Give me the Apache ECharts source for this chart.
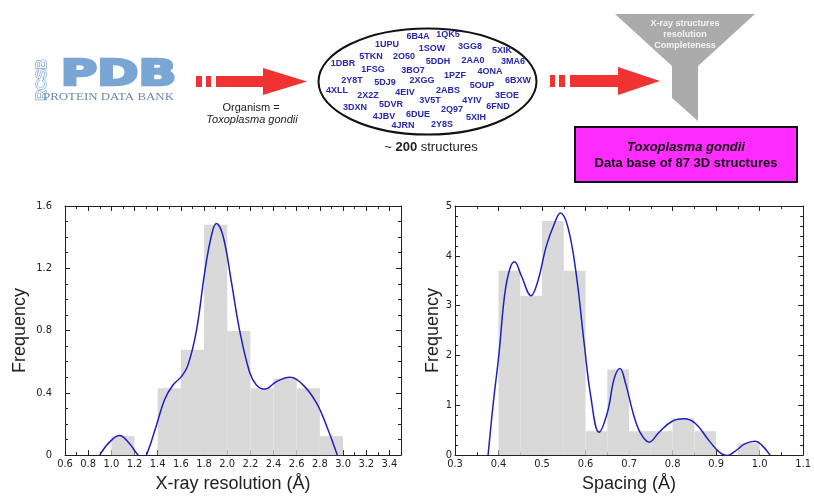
<!DOCTYPE html>
<html>
<head>
<meta charset="utf-8">
<script src="https://cdn.jsdelivr.net/npm/echarts@6/dist/echarts.min.js"></script>
<style>html,body{margin:0;padding:0;background:#fff;}#c{width:814px;height:498px;}</style>
</head>
<body>
<div id="c"></div>
<script>
// ---- Data: X-ray resolution histogram (bins of 0.2 Å) ----
const resBinStart = [1.0, 1.4, 1.6, 1.8, 2.0, 2.2, 2.4, 2.6, 2.8];
const resBinEnd   = [1.2, 1.6, 1.8, 2.0, 2.2, 2.4, 2.6, 2.8, 3.0];
const resFreq     = [0.122, 0.43, 0.677, 1.48, 0.797, 0.43, 0.49, 0.43, 0.122];
// density curve
const resCurveX = [0.90, 0.98, 1.071, 1.15, 1.23, 1.265, 1.302, 1.388, 1.46, 1.532, 1.604, 1.661, 1.734, 1.806, 1.863, 1.906, 1.964, 2.036, 2.108, 2.194, 2.252, 2.324, 2.425, 2.54, 2.654, 2.77, 2.857, 2.95];
const resCurveY = [0.0, 0.08, 0.126, 0.08, 0.0, -0.02, 0.0, 0.189, 0.357, 0.45, 0.504, 0.578, 0.798, 1.176, 1.407, 1.487, 1.407, 1.113, 0.798, 0.530, 0.451, 0.424, 0.472, 0.500, 0.451, 0.336, 0.189, 0.0];

// ---- Data: Spacing histogram (bins of 0.05 Å) ----
const spBinStart = [0.40, 0.45, 0.50, 0.55, 0.60, 0.65, 0.70, 0.75, 0.80, 0.85, 0.95];
const spBinEnd   = [0.45, 0.50, 0.55, 0.60, 0.65, 0.70, 0.75, 0.80, 0.85, 0.90, 1.00];
const spFreq     = [3.70, 3.20, 4.70, 3.70, 0.48, 1.72, 0.48, 0.48, 0.74, 0.48, 0.24];
const spCurveX = [0.376, 0.388, 0.401, 0.414, 0.426, 0.437, 0.452, 0.475, 0.490, 0.510, 0.529, 0.542, 0.559, 0.578, 0.597, 0.612, 0.631, 0.650, 0.666, 0.679, 0.692, 0.711, 0.727, 0.746, 0.769, 0.799, 0.826, 0.852, 0.883, 0.906, 0.925, 0.944, 0.967, 0.990, 1.005, 1.024];
const spCurveY = [0.0, 1.05, 2.03, 3.21, 3.74, 3.88, 3.61, 3.20, 3.48, 4.20, 4.66, 4.86, 4.59, 3.67, 2.23, 1.18, 0.46, 0.85, 1.54, 1.74, 1.44, 0.79, 0.43, 0.26, 0.46, 0.68, 0.73, 0.64, 0.30, 0.07, -0.01, 0.08, 0.23, 0.28, 0.20, 0.0];

// ---- Tick / axis text ----
const resXName = 'X-ray resolution (Å)';
const spXName = 'Spacing (Å)';
const yName = 'Frequency';

// ---- Diagram text ----
const pdbIds = ['6B4A','1QK5','1UPU','1SOW','3GG8','5XIK','5TKN','2O50','5DDH','2AA0','3MA6','1DBR','1FSG','3BO7','4ONA','1PZF','2Y8T','5DJ9','2XGG','6BXW','5OUP','4XLL','2ABS','2X2Z','4EIV','3EOE','4YIV','3V5T','5DVR','3DXN','6FND','2Q97','4JBV','6DUE','5XIH','4JRN','2Y8S'];
const pdbIdLayout = [[418,37],[448,35],[387,45],[432,49],[470,47],[502,51],[371,57],[404,57],[438,62],[473,61],[513,62],[343,64],[373,70],[413,71],[490,72],[455,76],[352,81],[385,83],[422,81],[518,81],[482,86],[337,91],[448,91],[368,96],[405,93],[507,96],[472,101],[430,101],[391,105],[355,108],[498,107],[452,110],[384,117],[418,115],[476,118],[403,126],[442,125]];
const filterLines = ['X-ray structures', 'resolution', 'Completeness'];

const chart = echarts.init(document.getElementById('c'), null, {renderer: 'canvas'});
const tickFont = "'Liberation Sans Narrow','DejaVu Sans Condensed','Liberation Sans',sans-serif";
const nameFont = "'Liberation Sans Narrow','Liberation Sans',sans-serif";

function histSeries(xs, xe, f, idx) {
  return {
    type: 'custom', xAxisIndex: idx, yAxisIndex: idx, z: 1,
    data: xs.map((s, i) => [s, xe[i], f[i]]),
    encode: {x: [0, 1], y: 2},
    renderItem: function (params, api) {
      const p0 = api.coord([api.value(0), api.value(2)]);
      const p1 = api.coord([api.value(1), 0]);
      return {type: 'rect', shape: {x: p0[0], y: p0[1], width: p1[0] - p0[0], height: p1[1] - p0[1]}, style: {fill: '#d9d9d9'}};
    }
  };
}
function curveSeries(xs, ys, idx) {
  return {
    type: 'line', xAxisIndex: idx, yAxisIndex: idx, z: 3, clip: true,
    data: xs.map((x, i) => [x, ys[i]]), smooth: 0.4, showSymbol: false, symbol: 'none',
    lineStyle: {color: '#1f1fc0', width: 1.5}
  };
}
const axLine = {show: true, onZero: false, lineStyle: {color: '#222', width: 1}};
const tick = {show: true, inside: true, length: 5, lineStyle: {color: '#222'}};
const minor = (n) => ({show: true, splitNumber: n, length: 3, lineStyle: {color: '#222'}});

function xAx(grid, min, max, interval, split, name, bottom) {
  return {
    type: 'value', gridIndex: grid, min: min, max: max, interval: interval,
    position: bottom ? 'bottom' : 'top',
    axisLine: axLine, axisTick: tick, minorTick: minor(split),
    splitLine: {show: false}, minorSplitLine: {show: false},
    axisLabel: bottom ? {show: true, margin: 4, fontSize: 11, color: '#222', fontFamily: tickFont, formatter: v => v.toFixed(1)} : {show: false},
    name: bottom ? name : '', nameLocation: 'middle', nameGap: 15,
    nameTextStyle: {fontSize: 18, color: '#222', fontFamily: nameFont}
  };
}
function yAx(grid, min, max, interval, split, left, fmt, gap, margin) {
  return {
    type: 'value', gridIndex: grid, min: min, max: max, interval: interval,
    position: left ? 'left' : 'right',
    axisLine: axLine, axisTick: tick, minorTick: minor(split),
    splitLine: {show: false}, minorSplitLine: {show: false},
    axisLabel: left ? {show: true, margin: margin, fontSize: 11, color: '#222', fontFamily: tickFont, formatter: fmt} : {show: false},
    name: left ? yName : '', nameLocation: 'middle', nameGap: gap,
    nameTextStyle: {fontSize: 18, color: '#222', fontFamily: nameFont}
  };
}

// ---- top diagram graphics ----
const red = '#f03232';
const g = [];
// RCSB PDB logo
g.push({type: 'text', x: 42, y: 80, rotation: Math.PI / 2, style: {x: 0, y: 0, text: 'RCSB', font: '15px "Liberation Sans", sans-serif', fill: '#ffffff', stroke: '#6d9fd6', lineWidth: 1.3, align: 'center', verticalAlign: 'middle'}});
g.push({type: 'text', x: 118.5, y: 76, scaleX: 1.42, style: {x: 0, y: 0, text: 'PDB', font: 'bold 35px "DejaVu Sans", sans-serif', fill: '#7aa6d6', stroke: '#7aa6d6', lineWidth: 2.5, align: 'center', verticalAlign: 'middle'}});
g.push({type: 'text', x: 108.5, y: 97, scaleX: 1.36, style: {x: 0, y: 0, text: 'PROTEIN DATA BANK', font: '9.5px "Liberation Serif", serif', fill: '#6d88a8', align: 'center', verticalAlign: 'middle'}});
// arrow 1
g.push({type: 'rect', shape: {x: 196, y: 76, width: 6, height: 11}, style: {fill: red}});
g.push({type: 'rect', shape: {x: 206, y: 76, width: 5, height: 11}, style: {fill: red}});
g.push({type: 'polygon', shape: {points: [[216, 76], [263, 76], [263, 68], [307, 81.5], [263, 95], [263, 87], [216, 87]]}, style: {fill: red}});
g.push({type: 'text', x: 251, y: 107.5, style: {x: 0, y: 0, text: 'Organism =', font: '11px "Liberation Sans", sans-serif', fill: '#222', align: 'center', verticalAlign: 'middle'}});
g.push({type: 'text', x: 252, y: 119.5, style: {x: 0, y: 0, text: 'Toxoplasma gondii', font: 'italic 11px "Liberation Sans", sans-serif', fill: '#222', align: 'center', verticalAlign: 'middle'}});
// ellipse with IDs
g.push({type: 'ellipse', shape: {cx: 427.5, cy: 81.5, rx: 109, ry: 53}, style: {fill: '#fff', stroke: '#111', lineWidth: 2}});
pdbIds.forEach((id, i) => {
  g.push({type: 'text', x: pdbIdLayout[i][0], y: pdbIdLayout[i][1], z: 10, style: {x: 0, y: 0, text: id, font: 'bold 9px "Liberation Sans", sans-serif', fill: '#2727b0', align: 'center', verticalAlign: 'middle'}});
});
g.push({type: 'text', x: 431, y: 147, style: {x: 0, y: 0, text: '{a|~ }{b|200}{a| structures}', rich: {a: {font: '13px "Liberation Sans", sans-serif', fill: '#222'}, b: {font: 'bold 13px "Liberation Sans", sans-serif', fill: '#222'}}, align: 'center', verticalAlign: 'middle'}});
// arrow 2
g.push({type: 'rect', shape: {x: 550, y: 75, width: 5, height: 12}, style: {fill: red}});
g.push({type: 'rect', shape: {x: 559, y: 75, width: 6, height: 12}, style: {fill: red}});
g.push({type: 'polygon', shape: {points: [[570, 75], [618, 75], [618, 67], [660, 81], [618, 95], [618, 87], [570, 87]]}, style: {fill: red}});
// funnel
g.push({type: 'polygon', shape: {points: [[615, 14], [755, 14], [698, 66], [698, 121], [672, 98], [672, 66]]}, style: {fill: '#ababab'}});
filterLines.forEach((t, i) => {
  g.push({type: 'text', x: 685, y: 23.5 + i * 11, style: {x: 0, y: 0, text: t, font: 'bold 9px "Liberation Sans", sans-serif', fill: '#f4f4f4', align: 'center', verticalAlign: 'middle'}});
});
// magenta box
g.push({type: 'rect', shape: {x: 575, y: 127, width: 222, height: 55}, style: {fill: '#ff2cff', stroke: '#111', lineWidth: 2}});
g.push({type: 'text', x: 686, y: 147, style: {x: 0, y: 0, text: 'Toxoplasma gondii', font: 'italic bold 13px "Liberation Sans", sans-serif', fill: '#111', align: 'center', verticalAlign: 'middle'}});
g.push({type: 'text', x: 686, y: 163.5, style: {x: 0, y: 0, text: 'Data base of 87 3D structures', font: 'bold 13px "Liberation Sans", sans-serif', fill: '#111', align: 'center', verticalAlign: 'middle'}});

const option = {
  animation: false,
  backgroundColor: '#ffffff',
  grid: [
    {left: 65, right: 413, top: 206, bottom: 38},
    {left: 455, right: 9, top: 206, bottom: 38}
  ],
  xAxis: [
    xAx(0, 0.6, 3.5, 0.2, 2, resXName, true),
    xAx(0, 0.6, 3.5, 0.2, 2, '', false),
    xAx(1, 0.3, 1.1, 0.1, 2, spXName, true),
    xAx(1, 0.3, 1.1, 0.1, 2, '', false)
  ],
  yAxis: [
    yAx(0, 0, 1.6, 0.4, 4, true, v => v === 0 ? '0' : v.toFixed(1), 36, 13),
    yAx(0, 0, 1.6, 0.4, 4, false),
    yAx(1, 0, 5, 1, 5, true, v => String(Math.round(v)), 12, 3),
    yAx(1, 0, 5, 1, 5, false)
  ],
  series: [
    histSeries(resBinStart, resBinEnd, resFreq, 0),
    curveSeries(resCurveX, resCurveY, 0),
    histSeries(spBinStart, spBinEnd, spFreq, 2),
    curveSeries(spCurveX, spCurveY, 2)
  ],
  graphic: g
};
option.xAxis[0].axisLabel.showMaxLabel = false;
chart.setOption(option);
</script>
</body>
</html>
